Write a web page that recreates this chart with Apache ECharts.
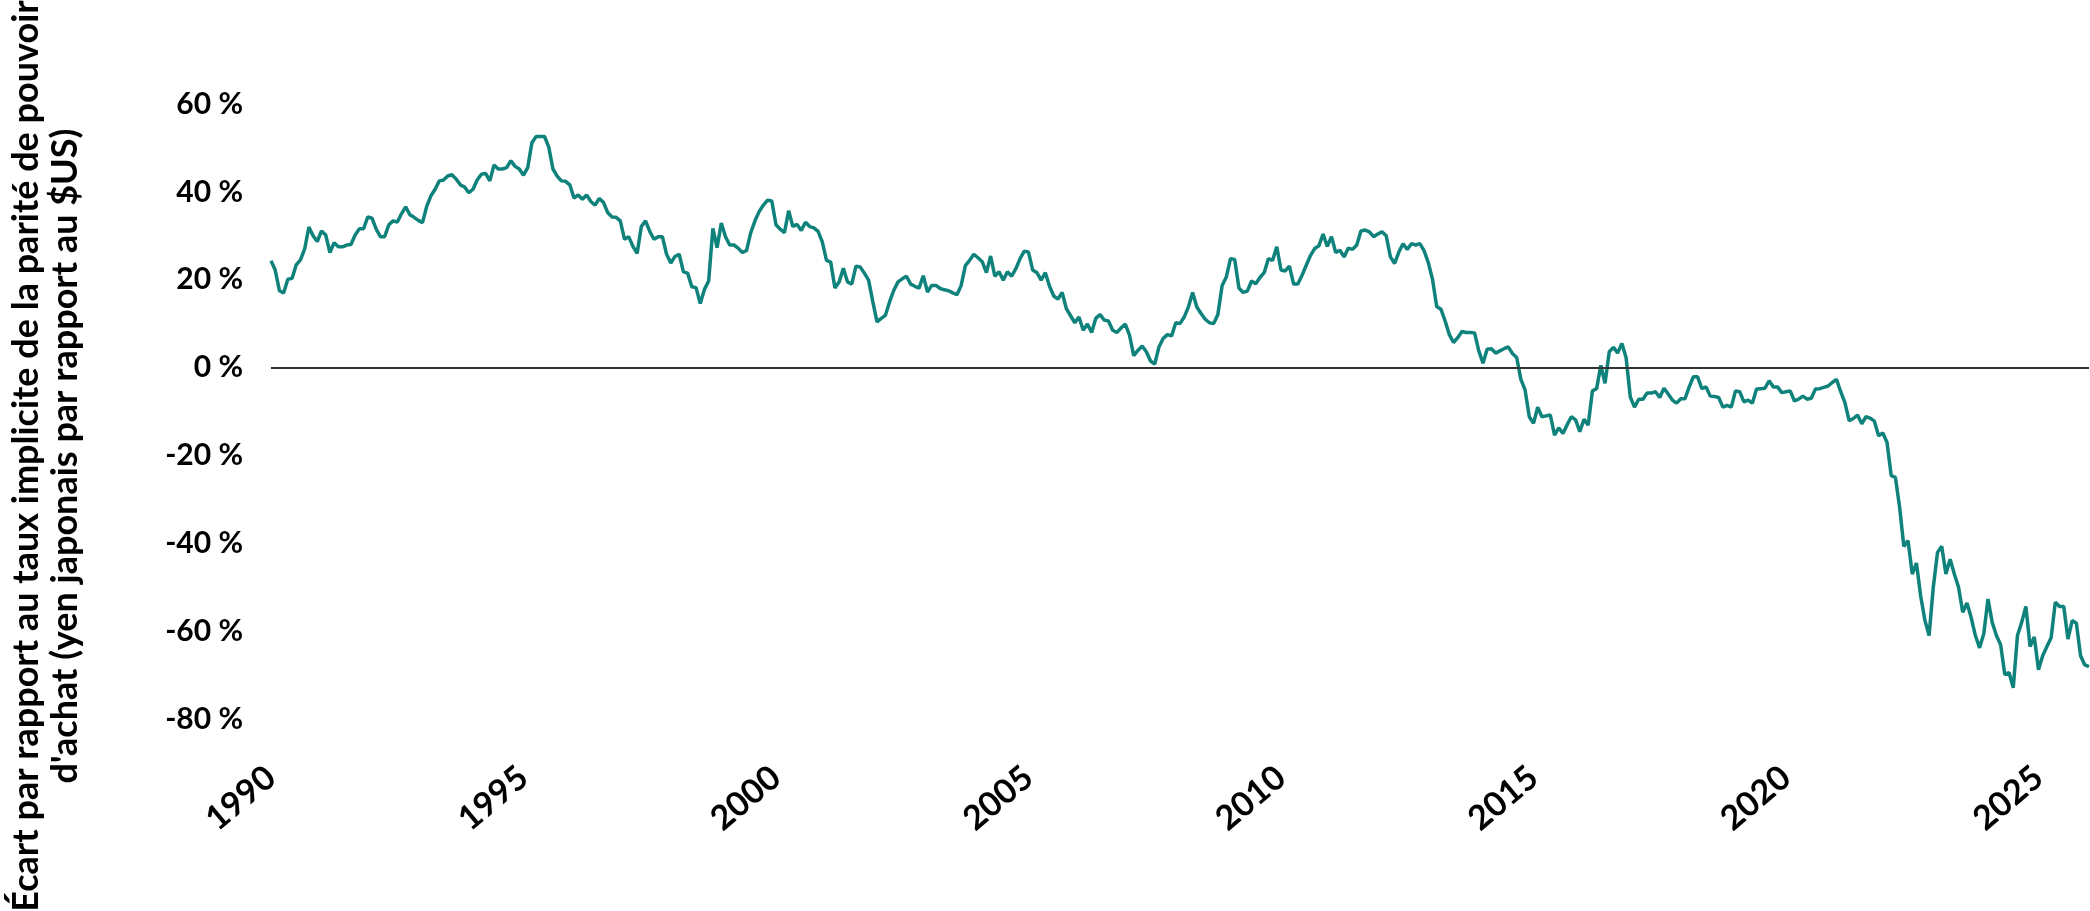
<!DOCTYPE html>
<html>
<head>
<meta charset="utf-8">
<title>Écart PPA yen</title>
<script src="https://cdn.jsdelivr.net/npm/echarts@6/dist/echarts.min.js"></script>
<style>
  html, body { margin: 0; padding: 0; background: #fff; }
  #chart { width: 2090px; height: 911px; }
</style>
</head>
<body>
<div id="chart"></div>
<script>
// écart mensuel (%) par rapport au taux PPA, janv. 1990 -> janv. 2026
const startYear = 1990;
const gapPct = [
  24.3, 22.2, 17.5, 17.0, 20.1, 20.3, 23.4, 24.5, 27.0, 32.0, 30.0, 28.7, // 1990
  31.1, 30.2, 26.2, 28.4, 27.5, 27.5, 27.9, 28.0, 30.2, 31.6, 31.6, 34.3, // 1991
  34.0, 31.5, 29.8, 29.8, 32.5, 33.4, 33.1, 35.0, 36.6, 34.8, 34.2, 33.5, // 1992
  33.0, 36.7, 39.1, 40.6, 42.5, 42.7, 43.6, 43.9, 42.9, 41.6, 41.1, 39.8, // 1993
  40.6, 42.7, 44.0, 44.2, 42.5, 46.1, 45.2, 45.2, 45.5, 47.1, 45.8, 45.2, // 1994
  43.8, 45.5, 51.2, 52.6, 52.6, 52.6, 50.2, 45.2, 43.6, 42.5, 42.4, 41.6, // 1995
  38.6, 39.3, 38.3, 39.3, 37.8, 37.0, 38.5, 37.6, 35.3, 34.3, 34.2, 33.4, // 1996
  29.2, 29.8, 27.6, 26.0, 32.1, 33.4, 31.0, 29.2, 29.8, 29.8, 25.8, 23.8, // 1997
  25.3, 25.8, 21.8, 21.5, 18.4, 18.2, 14.6, 17.8, 19.7, 31.7, 27.3, 32.9, // 1998
  29.8, 27.9, 27.9, 27.2, 26.2, 26.6, 30.7, 33.4, 35.5, 37.0, 38.1, 37.9, // 1999
  32.5, 31.5, 30.7, 35.7, 32.1, 32.6, 31.2, 33.1, 32.1, 31.8, 31.0, 28.6, // 2000
  24.4, 24.0, 18.1, 19.5, 22.6, 19.5, 19.0, 23.1, 22.9, 21.5, 19.9, 15.0, // 2001
  10.4, 11.2, 11.9, 15.0, 17.6, 19.5, 20.2, 20.8, 19.0, 18.5, 18.1, 20.9, // 2002
  17.2, 18.7, 18.7, 18.0, 17.7, 17.5, 17.0, 16.6, 18.7, 23.2, 24.4, 25.8, // 2003
  25.0, 24.1, 21.6, 25.4, 20.8, 21.8, 19.9, 21.8, 20.8, 22.5, 24.8, 26.5, // 2004
  26.3, 22.2, 21.6, 19.9, 21.6, 18.5, 16.3, 15.6, 17.1, 13.4, 11.8, 10.2, // 2005
  11.5, 8.5, 9.9, 8.0, 11.2, 12.1, 10.8, 10.6, 8.5, 8.0, 9.0, 9.9,        // 2006
  7.4, 2.7, 3.9, 4.9, 3.6, 1.5, 0.8, 4.7, 6.6, 7.5, 7.2, 10.2,            // 2007
  10.0, 11.5, 13.8, 17.1, 13.8, 12.3, 11.0, 10.2, 10.0, 12.1, 18.6, 20.6, // 2008
  24.8, 24.6, 18.1, 17.1, 17.4, 19.7, 19.1, 20.5, 21.6, 24.8, 24.4, 27.5, // 2009
  22.2, 22.0, 23.1, 19.0, 19.0, 21.0, 23.3, 25.5, 27.1, 27.7, 30.4, 27.6, // 2010
  29.8, 26.2, 26.7, 25.2, 27.2, 26.9, 27.9, 31.1, 31.3, 30.9, 29.8, 30.4, // 2011
  30.9, 30.0, 25.2, 23.7, 26.3, 28.2, 26.9, 28.2, 27.9, 28.2, 26.6, 23.9, // 2012
  20.1, 13.9, 13.3, 10.6, 7.5, 5.7, 6.8, 8.2, 8.0, 8.0, 7.9, 3.8,         // 2013
  1.0, 4.2, 4.3, 3.3, 3.8, 4.3, 4.7, 3.2, 2.3, -2.7, -5.1, -11.2,         // 2014
  -12.7, -9.0, -11.2, -11.0, -10.8, -15.4, -13.7, -15.0, -13.0, -11.2, -11.9, -14.6, // 2015
  -11.8, -13.1, -5.3, -4.8, 0.5, -3.6, 3.6, 4.6, 3.3, 5.5, 2.3, -6.7,     // 2016
  -9.0, -7.2, -7.2, -5.8, -5.8, -5.5, -6.8, -4.7, -6.0, -7.4, -8.1, -7.1, // 2017
  -7.1, -4.4, -2.1, -2.1, -4.8, -4.4, -6.5, -6.6, -6.8, -9.0, -8.6, -9.0, // 2018
  -5.3, -5.5, -7.8, -7.4, -8.1, -4.9, -4.8, -4.7, -3.0, -4.4, -4.4, -5.7, // 2019
  -5.5, -5.3, -7.6, -7.2, -6.5, -7.2, -7.0, -4.9, -4.8, -4.5, -4.2, -3.4, // 2020
  -2.7, -5.5, -8.0, -12.1, -11.6, -10.8, -12.8, -11.2, -11.5, -12.2, -15.5, -14.9, // 2021
  -17.0, -24.6, -25.0, -31.8, -40.7, -39.4, -47.0, -44.5, -52.0, -57.5, -61.0, -50.0, // 2022
  -42.1, -40.7, -47.0, -43.6, -47.0, -50.0, -55.7, -53.6, -56.9, -61.0, -63.8, -60.6, // 2023
  -52.7, -58.0, -61.0, -63.1, -69.9, -69.4, -72.9, -61.0, -58.0, -54.4, -63.5, -61.3, // 2024
  -68.8, -65.6, -63.5, -61.5, -53.4, -54.4, -54.4, -61.8, -57.6, -58.2, -65.6, -67.7, // 2025
  -68.1                                                                   // 2026
];
const yTicks = { min: -80, max: 60, step: 20 };
const labelEveryYears = 5;

// catégories mensuelles 'AAAA-MM'
const months = gapPct.map((_, i) => {
  const y = startYear + Math.floor(i / 12);
  const m = (i % 12) + 1;
  return y + '-' + (m < 10 ? '0' + m : m);
});

const chart = echarts.init(document.getElementById('chart'));
chart.setOption({
  animation: false,
  backgroundColor: '#fff',
  grid: { left: 271, right: 1, top: 104, bottom: 192, containLabel: false },
  xAxis: {
    type: 'category',
    data: months,
    boundaryGap: false,
    axisLine: { show: false, onZero: false },
    axisTick: { show: false },
    splitLine: { show: false },
    axisLabel: {
      interval: (idx) => idx % (12 * labelEveryYears) === 0,
      formatter: (v) => v.slice(0, 4),
      rotate: 40,
      margin: 54,
      color: '#000',
      fontFamily: 'Lato',
      fontWeight: 'bold',
      fontSize: 34
    }
  },
  yAxis: {
    type: 'value',
    min: yTicks.min,
    max: yTicks.max,
    interval: yTicks.step,
    axisLine: { show: false },
    axisTick: { show: false },
    splitLine: { show: false },
    axisLabel: {
      formatter: '{value} %',
      margin: 28,
      color: '#000',
      fontFamily: 'Lato',
      fontWeight: 'bold',
      fontSize: 30
    }
  },
  graphic: [{
    type: 'text',
    x: 46,
    y: 456,
    rotation: Math.PI / 2,
    style: {
      text: 'Écart par rapport au taux implicite de la parité de pouvoir\nd\'achat (yen japonais par rapport au $US)',
      font: 'bold 36px Lato',
      fill: '#000',
      align: 'center',
      verticalAlign: 'middle',
      lineHeight: 39
    }
  }],
  series: [{
    type: 'line',
    data: gapPct,
    symbol: 'none',
    lineStyle: { color: '#0f827c', width: 3.5 },
    markLine: {
      silent: true,
      symbol: 'none',
      label: { show: false },
      lineStyle: { color: '#333', width: 2, type: 'solid' },
      data: [{ yAxis: 0 }]
    }
  }]
});
</script>
</body>
</html>
